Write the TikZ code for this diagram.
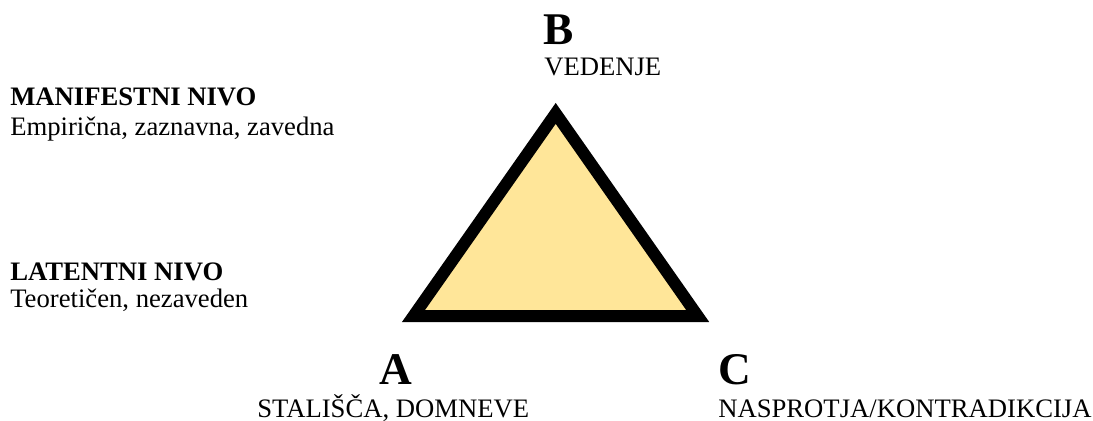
\documentclass[tikz,border=0pt]{standalone}
\usepackage{fontspec}
\setmainfont{Liberation Serif}
\usetikzlibrary{positioning}
\definecolor{TriFill}{HTML}{FFE699}
\tikzset{
  corner/.style={font=\fontsize{34}{40}\selectfont\bfseries,inner sep=0pt},
  level/.style={font=\fontsize{20}{24}\selectfont\bfseries,inner sep=0pt,anchor=base west},
  note/.style={font=\fontsize{20}{24}\selectfont,inner sep=0pt,anchor=base west},
  tri/.style={draw=black,fill=TriFill,line width=9pt,line join=miter}
}
\begin{document}
\begin{tikzpicture}[x=0.75pt,y=-0.75pt]
      \useasboundingbox (0,0) rectangle (1093,421);
      % triangle
      \coordinate (tb) at (555.7,113.4);
      \coordinate (ta) at (413.5,316);
      \coordinate (tc) at (697.7,316);
      \draw[tri] (ta) -- (tb) -- (tc) -- cycle;
      % corner labels
      \node[corner,anchor=base west] (bname) at (543,45) {B};
      \node[note] (bnote) at (544,75) {VEDENJE};
      \node[corner,anchor=base] (aname) at (396,384) {A};
      \node[note] (anote) at (257,417) {STALIŠČA, DOMNEVE};
      \node[corner,anchor=base west] (cname) at (718,384) {C};
      \node[note] (cnote) at (718,417) {NASPROTJA/KONTRADIKCIJA};
      % levels
      \node[level] (manif) at (10,105) {MANIFESTNI NIVO};
      \node[note] (manifnote) at (10,135) {Empirična, zaznavna, zavedna};
      \node[level] (latent) at (10,280) {LATENTNI NIVO};
      \node[note] (latentnote) at (10,307) {Teoretičen, nezaveden};
    \end{tikzpicture}
\end{document}
